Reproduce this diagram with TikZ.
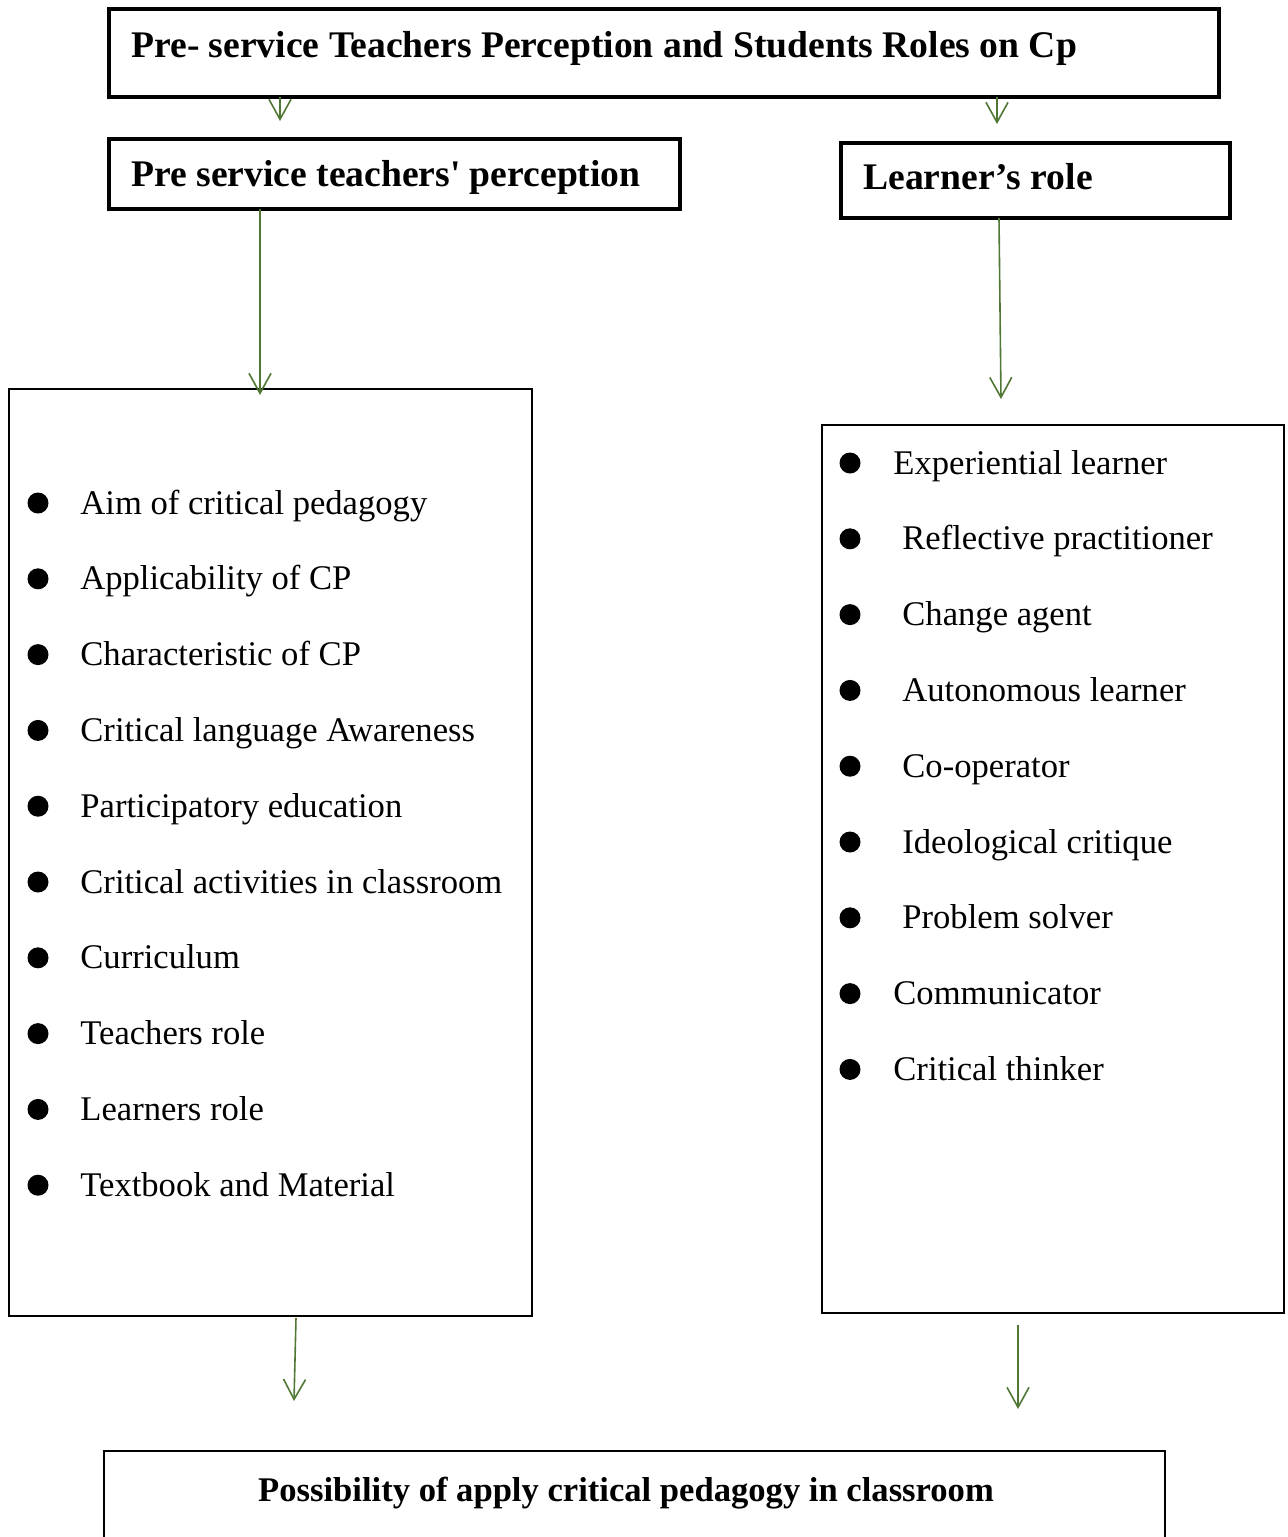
\documentclass[tikz,border=0pt]{standalone}
\usepackage{fontspec}
\setmainfont{Liberation Serif}
\usetikzlibrary{arrows.meta}
\definecolor{arrowgreen}{RGB}{80,120,52}
\tikzset{
  thickbox/.style={draw, line width=2pt, inner sep=0pt},
  midbox/.style={draw, line width=1.6pt, inner sep=0pt},
  thinbox/.style={draw, line width=0.8pt, inner sep=0pt},
  headtext/.style={font=\fontsize{18.8pt}{22pt}\selectfont\bfseries, anchor=base west, inner sep=0pt},
  bottext/.style={font=\fontsize{17.3pt}{20pt}\selectfont\bfseries, anchor=base, inner sep=0pt},
  itemtext/.style={font=\fontsize{17.3pt}{20pt}\selectfont, anchor=base west, inner sep=0pt},
  bullet/.style={circle, fill=black, inner sep=0pt, minimum size=10.5pt},
  garrow/.style={draw=arrowgreen, line width=0.8pt, -{Straight Barb[length=10pt, width=11pt, line width=0.8pt]}},
}
\begin{document}
\begin{tikzpicture}[x=0.5pt,y=-0.5pt]
\useasboundingbox (0,0) rectangle (1288,1537);
% boxes
\node[thickbox, minimum width=555pt, minimum height=44pt] (top) at (664,53) {};
\node[midbox, minimum width=285.5pt, minimum height=35pt] (pst) at (394.5,174) {};
\node[midbox, minimum width=194.5pt, minimum height=37.5pt] (lr) at (1035.5,180.5) {};
\node[thinbox, minimum width=261.5pt, minimum height=463.5pt] (lbox) at (270.5,852.5) {};
\node[thinbox, minimum width=231pt, minimum height=444pt] (rbox) at (1053,869) {};
\node[thinbox, minimum width=530.5pt, minimum height=50pt] (bot) at (634.5,1501) {};
% header texts
\node[headtext] (toptxt) at (131,57) {Pre- service Teachers Perception and Students Roles on Cp};
\node[headtext] (psttxt) at (131,186) {Pre service teachers\textquotesingle{} perception};
\node[headtext] (lrtxt) at (863,189) {Learner’s role};
\node[bottext] (bottxt) at (626,1501) {Possibility of apply critical pedagogy in classroom};
% left list
\foreach \t [count=\i] in {Aim of critical pedagogy, Applicability of CP, Characteristic of CP, Critical language Awareness, Participatory education, Critical activities in classroom, Curriculum, Teachers role, Learners role, Textbook and Material}{
  \node[bullet] (lb\i) at (38,{503+75.8*(\i-1)}) {};
  \node[itemtext] (lt\i) at (80,{514+75.8*(\i-1)}) {\t};
}
% right list
\foreach \t/\xx [count=\i] in {Experiential learner/893, Reflective practitioner/902, Change agent/902, Autonomous learner/902, Co-operator/902, Ideological critique/902, Problem solver/902, Communicator/893, Critical thinker/893}{
  \node[bullet] (rb\i) at (850,{463+75.8*(\i-1)}) {};
  \node[itemtext] (rt\i) at (\xx,{474+75.8*(\i-1)}) {\t};
}
% arrow end points
\coordinate (a1s) at (280,97);  \coordinate (a1e) at (280,121);
\coordinate (a2s) at (997,97);  \coordinate (a2e) at (997,124);
\coordinate (a3s) at (260,209); \coordinate (a3e) at (260,395);
\coordinate (a4s) at (999,218); \coordinate (a4e) at (1001,399);
\coordinate (a5s) at (296,1318); \coordinate (a5e) at (294,1401);
\coordinate (a6s) at (1018,1325); \coordinate (a6e) at (1018,1409);
\draw[garrow] (a1s) -- (a1e);
\draw[garrow] (a2s) -- (a2e);
\draw[garrow] (a3s) -- (a3e);
\draw[garrow] (a4s) -- (a4e);
\draw[garrow] (a5s) -- (a5e);
\draw[garrow] (a6s) -- (a6e);
\end{tikzpicture}
\end{document}
